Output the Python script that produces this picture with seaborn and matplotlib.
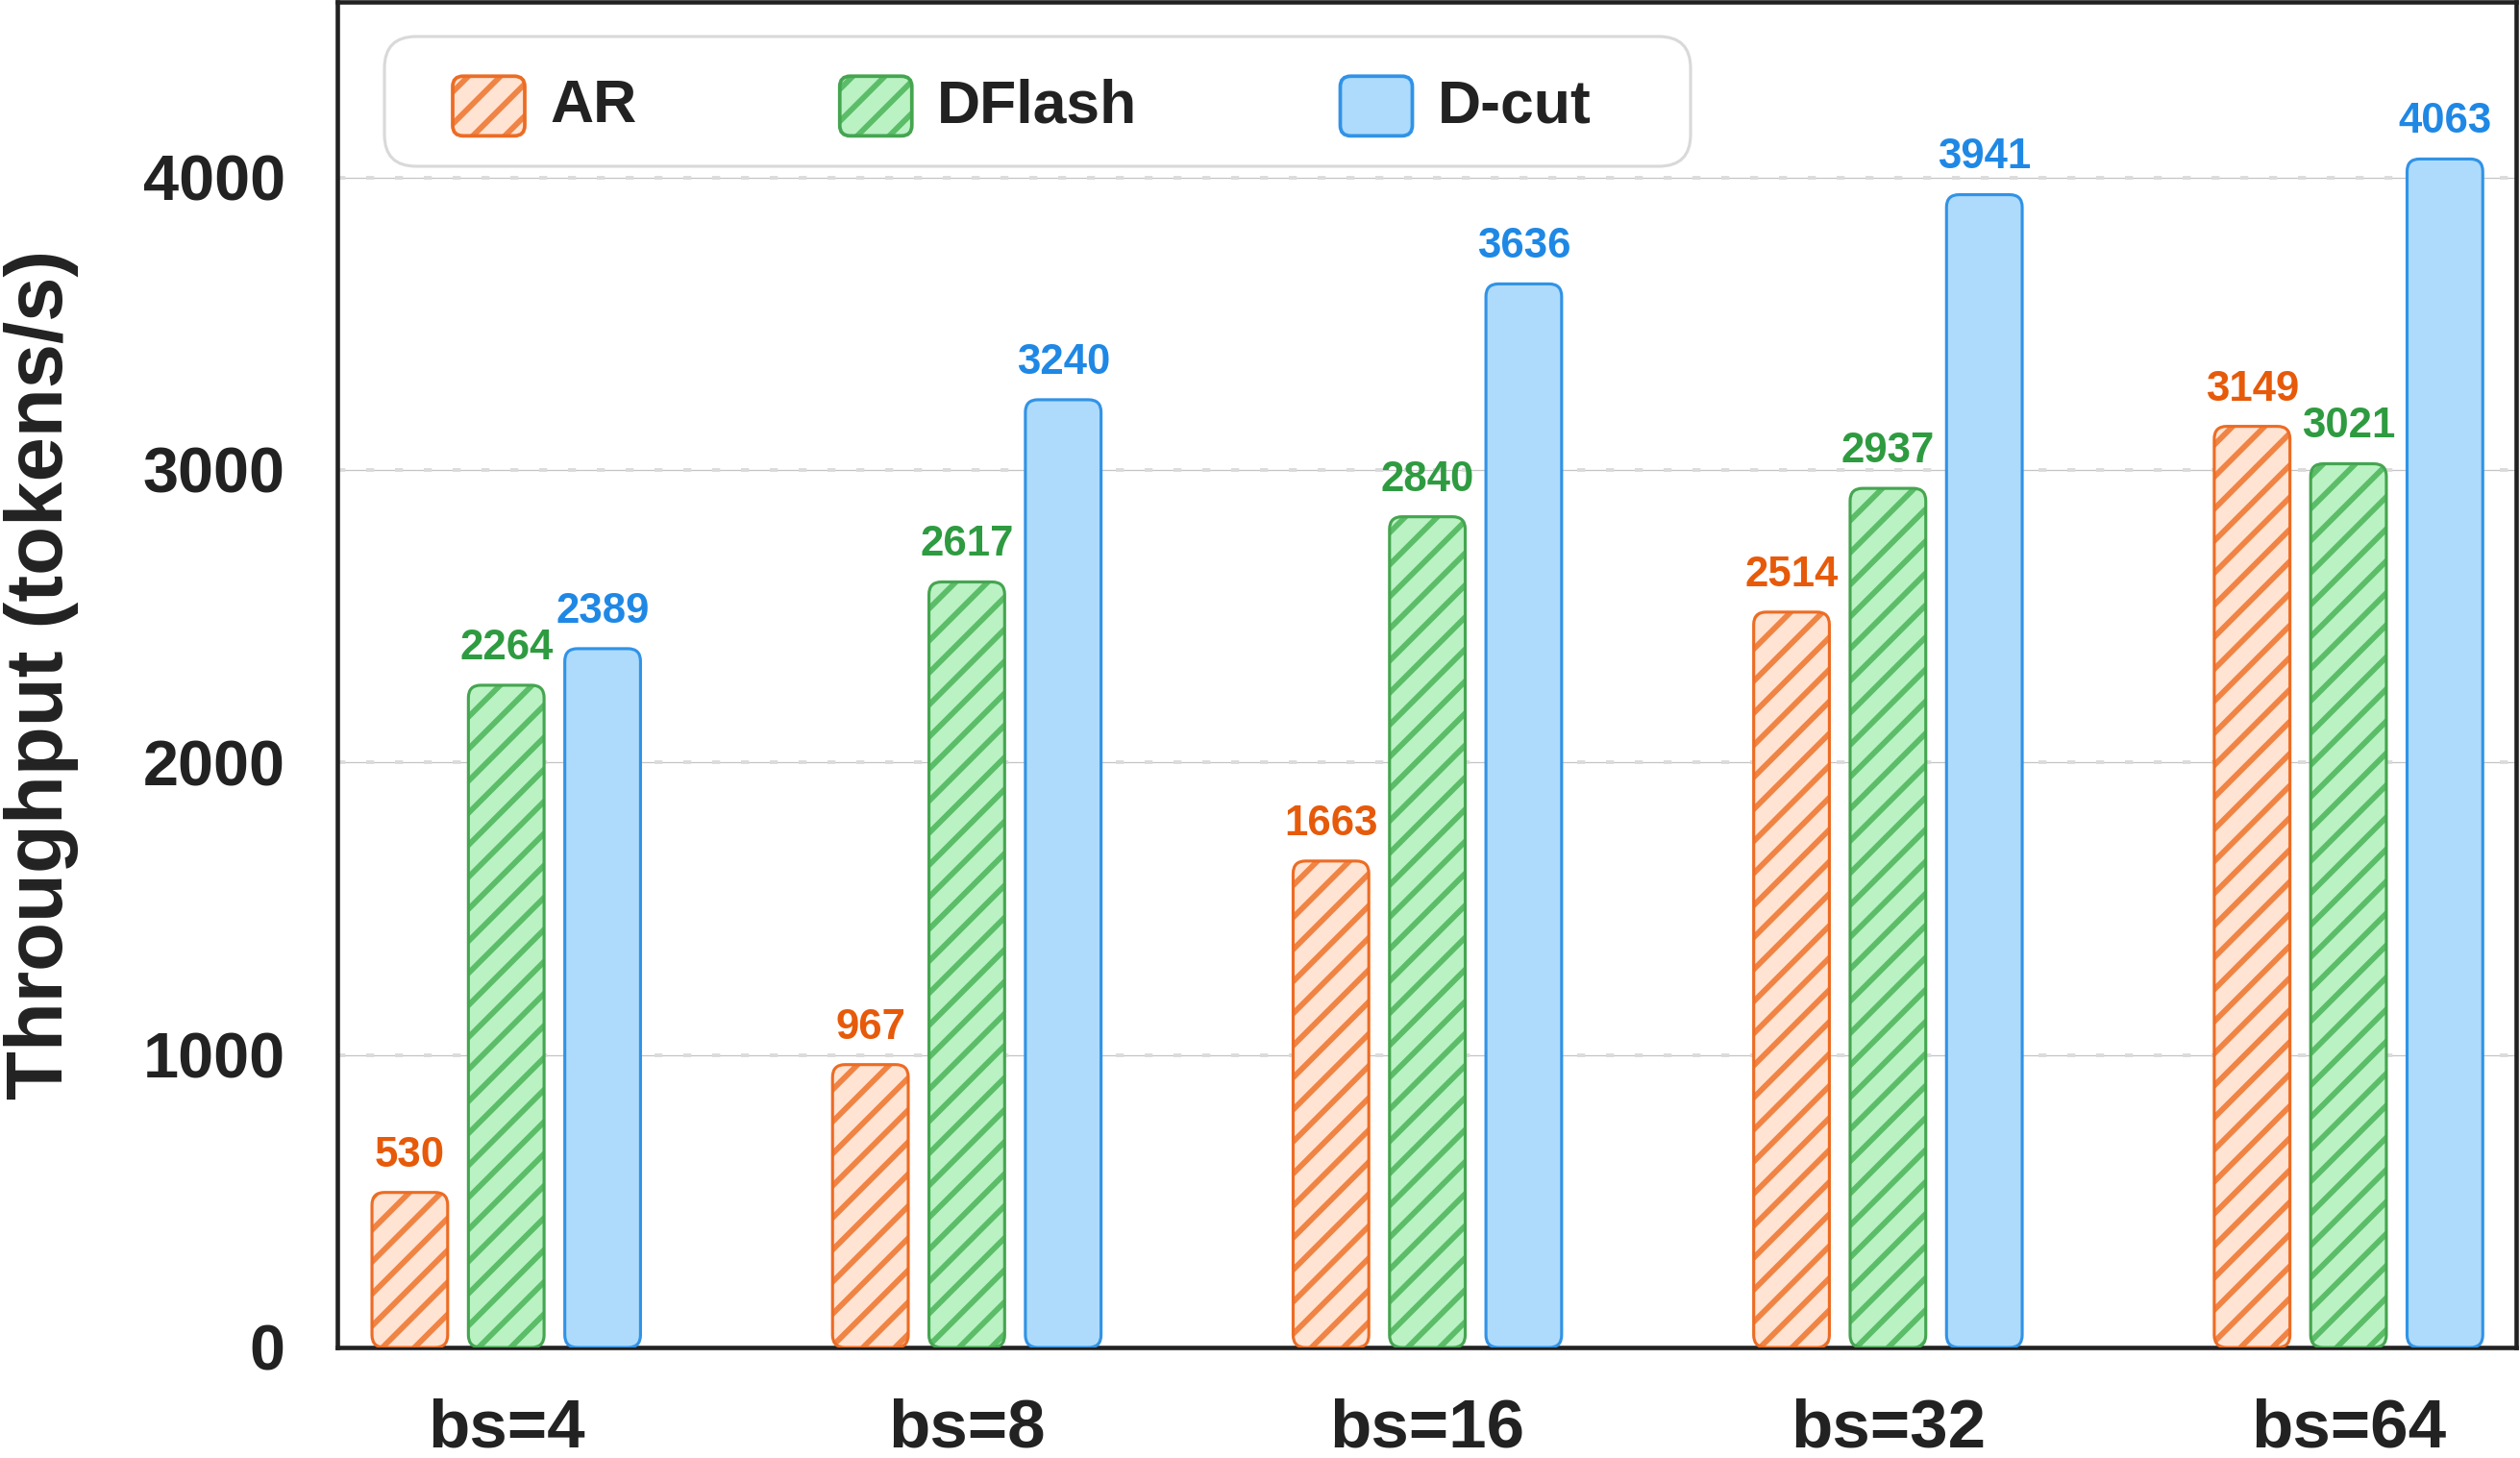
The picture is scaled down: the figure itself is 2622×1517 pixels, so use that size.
import numpy as np
import pandas as pd
import matplotlib
matplotlib.use("Agg")
import matplotlib.pyplot as plt
from matplotlib.patches import FancyBboxPatch, Patch
import seaborn as sns

# data
batch_sizes = ["bs=4", "bs=8", "bs=16", "bs=32", "bs=64"]
methods = ["AR", "DFlash", "D-cut"]
ar_tput = [530, 967, 1663, 2514, 3149]
dflash_tput = [2264, 2617, 2840, 2937, 3021]
dcut_tput = [2389, 3240, 3636, 3941, 4063]
y_ticks = [0, 1000, 2000, 3000, 4000]

fill_colors = ["#FFE3D3", "#BAF2C4", "#AEDBFB"]
edge_colors = ["#EC6C24", "#45A550", "#3193E6"]
hatch_colors = ["#F08444", "#5CBD68", "#3193E6"]
text_colors = ["#E65A0A", "#2E9B40", "#1F88E5"]
hatches = ["///", "///", None]

df = pd.DataFrame({
    "batch": batch_sizes * 3,
    "method": np.repeat(methods, len(batch_sizes)),
    "tput": ar_tput + dflash_tput + dcut_tput,
})

sns.set_style("white")
plt.rcParams["font.family"] = ["Liberation Sans", "DejaVu Sans"]
plt.rcParams["hatch.linewidth"] = 1.4

fig = plt.figure(figsize=(2622 / 300, 1517 / 300), dpi=300)
ax = fig.add_axes([351 / 2622, 1 - 1402 / 1517, (2618 - 351) / 2622, (1402 - 2) / 1517])

sns.barplot(data=df, x="batch", y="tput", hue="method", hue_order=methods,
            palette=fill_colors, width=0.628, gap=0.215, legend=False, ax=ax)

ax.set_xlim(-0.3667, 4.364)
ax.set_ylim(0, 4600)

# pixel scale to keep the rounded corners round
p0 = ax.transData.transform((0, 0))
p1 = ax.transData.transform((1, 1))
px_x = p1[0] - p0[0]
px_y = p1[1] - p0[1]
aspect = px_x / px_y
radius = 13 / px_x


def rounded(xy, w, h, **kw):
    return FancyBboxPatch(xy, w, h, boxstyle=f"round,pad=0,rounding_size={radius}",
                          mutation_aspect=aspect, **kw)


# swap seaborn's square bars for rounded ones
for i, cont in enumerate(ax.containers):
    for bar, val in zip(cont, [ar_tput, dflash_tput, dcut_tput][i]):
        x, y = bar.get_x(), bar.get_y()
        w, h = bar.get_width(), bar.get_height()
        bar.remove()
        # fill + hatch, then the outline on top
        ax.add_patch(rounded((x, y), w, h, facecolor=fill_colors[i],
                             edgecolor=hatch_colors[i], linewidth=0,
                             hatch=hatches[i], zorder=3))
        ax.add_patch(rounded((x, y), w, h, facecolor="none",
                             edgecolor=edge_colors[i], linewidth=0.75, zorder=3.5))
        ax.annotate(f"{val}", (x + w / 2, y + h), xytext=(0, 6.5),
                    textcoords="offset points", ha="center", va="baseline",
                    fontsize=10.5, fontweight="bold", color=text_colors[i],
                    zorder=4)

# grid: thin line with dashes on top
for t in y_ticks[1:]:
    ax.axhline(t, color="#c4c4c4", lw=0.3, zorder=0)
    ax.axhline(t, color="#dadada", lw=0.9, ls=(0, (2.2, 5.8)), zorder=0)

ax.set_yticks(y_ticks)
ax.tick_params(axis="both", length=0)
ax.tick_params(axis="y", pad=13, labelsize=16)
ax.tick_params(axis="x", pad=12.5, labelsize=17)
for lab in ax.get_xticklabels() + ax.get_yticklabels():
    lab.set_fontweight("bold")
    lab.set_color("#222222")
ax.set_xlabel("")
ax.set_ylabel("Throughput (tokens/s)", fontsize=20, fontweight="bold",
              color="#222222", labelpad=16)

for sp in ax.spines.values():
    sp.set_visible(True)
    sp.set_linewidth(1.1)
    sp.set_color("#222222")


class RoundHandler:
    def legend_artist(self, legend, orig_handle, fontsize, handlebox):
        x0 = -handlebox.xdescent
        w = handlebox.width
        fill = FancyBboxPatch((x0, -3.4), w, 14.9,
                              boxstyle="round,pad=0,rounding_size=2.6",
                              facecolor=orig_handle.get_facecolor(),
                              edgecolor=orig_handle.get_label(), linewidth=0,
                              hatch=orig_handle.get_hatch(),
                              transform=handlebox.get_transform())
        edge = FancyBboxPatch((x0, -3.4), w, 14.9,
                              boxstyle="round,pad=0,rounding_size=2.6",
                              facecolor="none", edgecolor=orig_handle.get_edgecolor(),
                              linewidth=0.9, transform=handlebox.get_transform())
        handlebox.add_artist(fill)
        handlebox.add_artist(edge)
        return edge


class Swatch(Patch):
    pass


handles = []
for i in range(3):
    sw = Swatch(facecolor=fill_colors[i], edgecolor=edge_colors[i], hatch=hatches[i])
    sw.set_label(hatch_colors[i])
    handles.append(sw)

# legend frame drawn by hand so its padding matches the reference
ax_w = 2618 - 351
ax_h = 1402 - 2
ax.add_patch(FancyBboxPatch(((400 - 351) / ax_w, 1 - (173 - 2) / ax_h),
                            (1759 - 400) / ax_w, (173 - 38) / ax_h,
                            boxstyle=f"round,pad=0,rounding_size={33 / ax_w}",
                            mutation_aspect=ax_w / ax_h, transform=ax.transAxes,
                            facecolor="white", edgecolor="#d9d9d9", linewidth=0.75,
                            zorder=5))

leg = ax.legend(handles, methods, loc="center left",
                bbox_to_anchor=((471 - 351) / ax_w, 1 - (109 - 2) / ax_h),
                borderaxespad=0, borderpad=0, ncol=3,
                prop={"weight": "bold", "size": 15},
                handlelength=1.2, handleheight=1.0, handletextpad=0.42,
                columnspacing=3.38, frameon=False,
                handler_map={Swatch: RoundHandler()})
leg.set_zorder(6)
for t in leg.get_texts():
    t.set_color("#222222")

fig.savefig("out.png", dpi=300)
